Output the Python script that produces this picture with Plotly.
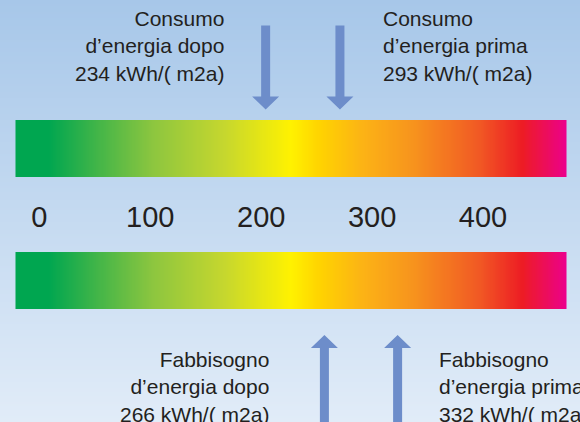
import numpy as np
import plotly.graph_objects as go

# ---------------- data ----------------
tick_values = [0, 100, 200, 300, 400]
tick_labels = ["0", "100", "200", "300", "400"]

consumo_texts = [
    "Consumo<br>d’energia dopo<br>234 kWh/( m2a)",
    "Consumo<br>d’energia prima<br>293 kWh/( m2a)",
]
# arrow positions as read against the printed scale
consumo_arrow_pos = [204, 271]

fabbisogno_texts = [
    "Fabbisogno<br>d’energia dopo<br>266 kWh/( m2a)",
    "Fabbisogno<br>d’energia prima<br>332 kWh/( m2a)",
]
fabbisogno_arrow_pos = [257, 323]

bar_stops = [0.0, 0.06, 0.25, 0.38, 0.50, 0.55, 0.63, 0.72, 0.84, 0.92, 1.0]
bar_colors = ["#00a650", "#00a650", "#8dc63f", "#c6d72e", "#fff200", "#ffd400",
              "#fcb315", "#f7941d", "#f15a24", "#ed1c24", "#ec008c"]

# ---------------- layout constants ----------------
W, H = 580, 422
ZERO_PX = 39.4
PPU = 1.109  # pixels per unit
FONT = "Liberation Sans, Arial, sans-serif"
TXT = "#231f20"
ARROW = "#6d8dca"


def px2x(p):
    return (p - ZERO_PX) / PPU


x_range = [px2x(0), px2x(W)]

fig = go.Figure()

# background gradient
nb = 211
fig.add_trace(go.Heatmap(
    x=[x_range[0], x_range[1]],
    y=np.linspace(0, H, nb + 1),
    z=[[i / (nb - 1)] for i in range(nb)],
    colorscale=[[0, "#a7c7e9"], [1, "#e1ecf8"]],
    zmin=0, zmax=1, showscale=False, hoverinfo="skip",
))

# gradient bars
N = 500
bx = np.linspace(px2x(15.5), px2x(566.5), N + 1)
row = [[(i + 0.5) / N for i in range(N)]]
for (y0, y1) in [(120, 177), (252, 309)]:
    fig.add_trace(go.Heatmap(
        x=bx, y=[y0, y1], z=row,
        colorscale=[[s, c] for s, c in zip(bar_stops, bar_colors)],
        zmin=0, zmax=1, showscale=False, hoverinfo="skip",
    ))

SH = 4.5 / PPU
HH = 13.5 / PPU


def arrow(xc, y_tail, y_head, y_tip):
    xs = [xc - SH, xc + SH, xc + SH, xc + HH, xc, xc - HH, xc - SH, xc - SH]
    ys = [y_tail, y_tail, y_head, y_head, y_tip, y_head, y_head, y_tail]
    return go.Scatter(x=xs, y=ys, mode="lines", fill="toself", fillcolor=ARROW,
                      line=dict(width=0, color=ARROW), hoverinfo="skip", showlegend=False)


for p in consumo_arrow_pos:
    fig.add_trace(arrow(p, 25.5, 96.5, 109.5))
for p in fabbisogno_arrow_pos:
    fig.add_trace(arrow(p, 430, 348, 335))

ann = []
font = dict(family=FONT, size=21, color=TXT)
ann.append(dict(x=px2x(226), y=46, text=consumo_texts[0], xanchor="right", align="right"))
ann.append(dict(x=px2x(381), y=46, text=consumo_texts[1], xanchor="left", align="left"))
ann.append(dict(x=px2x(271), y=387, text=fabbisogno_texts[0], xanchor="right", align="right"))
ann.append(dict(x=px2x(437), y=387, text=fabbisogno_texts[1], xanchor="left", align="left"))
for a in ann:
    a.update(xref="x", yref="y", yanchor="middle", showarrow=False, font=font)

fig.update_layout(
    width=W, height=H,
    margin=dict(l=0, r=0, t=0, b=0),
    paper_bgcolor="#c3d9f0", plot_bgcolor="rgba(0,0,0,0)",
    showlegend=False,
    annotations=ann,
    xaxis=dict(range=x_range, showgrid=False, zeroline=False, showline=False,
               tickvals=tick_values, ticktext=tick_labels, ticks="",
               tickfont=dict(family=FONT, size=29, color=TXT),
               anchor="free", position=1 - 197 / H, side="bottom", fixedrange=True),
    yaxis=dict(range=[H, 0], visible=False, showgrid=False, zeroline=False, fixedrange=True),
)

fig.write_html("out.html", config={"displayModeBar": False},
               post_script="document.body.style.margin='0';document.body.style.overflow='hidden';")
